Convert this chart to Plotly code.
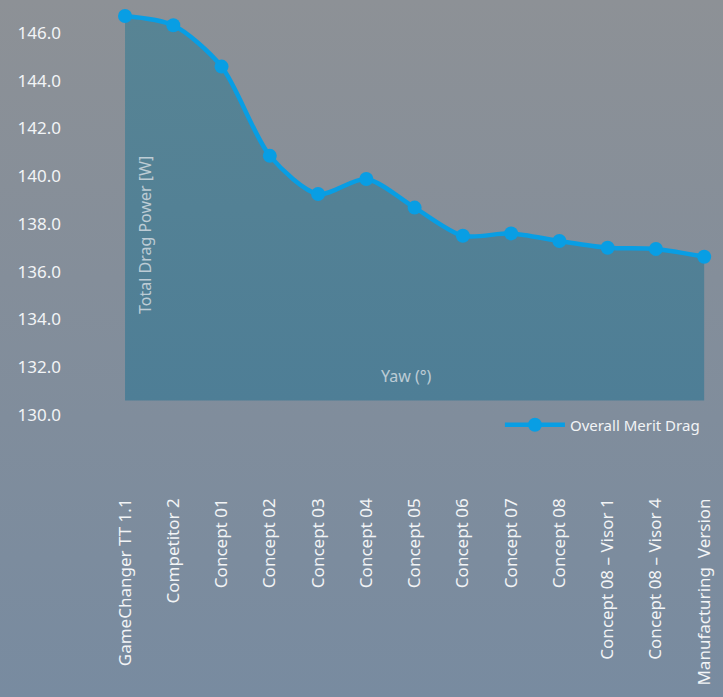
import plotly.graph_objects as go

# ---- data ----
categories = [
    "GameChanger TT 1.1", "Competitor 2", "Concept 01", "Concept 02",
    "Concept 03", "Concept 04", "Concept 05", "Concept 06", "Concept 07",
    "Concept 08", "Concept 08 – Visor 1", "Concept 08 – Visor 4",
    "Manufacturing  Version",
]
overall_merit_drag = [146.71, 146.32, 144.59, 140.85, 139.25, 139.88, 138.68,
                      137.50, 137.60, 137.28, 137.00, 136.95, 136.62]
fill_base = 130.6
y_ticks = [130, 132, 134, 136, 138, 140, 142, 144, 146]

W, H = 723, 697
FONT = "Noto Sans"
LINE_BLUE = "rgb(8,158,228)"

fig = go.Figure()

# background gradient panel (whole page)
fig.add_trace(go.Scatter(
    x=[0, 1, 1, 0, 0], y=[0, 0, 1, 1, 0], xaxis="x", yaxis="y",
    mode="lines", line=dict(width=0), fill="toself",
    fillgradient=dict(type="vertical",
                      colorscale=[[0, "rgb(120,139,160)"], [0.6, "rgb(132,142,154)"], [1, "rgb(141,145,150)"]]),
    hoverinfo="skip", showlegend=False,
))

# baseline for area fill
fig.add_trace(go.Scatter(
    x=categories, y=[fill_base] * len(categories), xaxis="x2", yaxis="y2",
    mode="lines", line=dict(width=0), hoverinfo="skip", showlegend=False,
))

# main series
fig.add_trace(go.Scatter(
    x=categories, y=overall_merit_drag, xaxis="x2", yaxis="y2",
    name="Overall Merit Drag", showlegend=False,
    mode="lines+markers",
    line=dict(color=LINE_BLUE, width=4.5, shape="spline", smoothing=0.8),
    marker=dict(color=LINE_BLUE, size=14),
    fill="tonexty",
    fillgradient=dict(type="vertical",
                      colorscale=[[0, "rgb(78,126,150)"], [1, "rgb(88,132,148)"]]),
))

# legend entry (line + marker only)
fig.add_trace(go.Scatter(
    x=[None], y=[None], xaxis="x2", yaxis="y2",
    name="Overall Merit Drag", mode="lines+markers",
    line=dict(color=LINE_BLUE, width=4.5),
    marker=dict(color=LINE_BLUE, size=14),
))

fig.update_layout(
    width=W, height=H,
    margin=dict(l=0, r=0, t=0, b=0),
    paper_bgcolor="rgb(128,140,155)",
    plot_bgcolor="rgba(0,0,0,0)",
    font=dict(family=FONT, color="rgb(242,244,246)"),
    xaxis=dict(domain=[0, 1], range=[0, 1], visible=False, fixedrange=True),
    yaxis=dict(domain=[0, 1], range=[0, 1], visible=False, fixedrange=True),
    xaxis2=dict(
        domain=[62 / W, 1], anchor="y2",
        type="category", range=[-1.306, 12.39],
        showgrid=False, zeroline=False, showline=False, ticks="",
        tickangle=-90, tickfont=dict(size=17, color="rgb(242,244,246)"),
        ticklabelstandoff=6,
        automargin=False,
    ),
    yaxis2=dict(
        domain=[209 / H, 1], anchor="x2",
        range=[126.93, 147.38],
        tickvals=y_ticks, tickformat=".1f",
        showgrid=False, zeroline=False, showline=False, ticks="",
        tickfont=dict(size=17, color="rgb(242,244,246)"),
        automargin=False,
    ),
    legend=dict(
        x=0.975, xanchor="right", y=1 - 425 / H, yanchor="middle",
        bgcolor="rgba(0,0,0,0)", itemwidth=60,
        font=dict(size=15, color="rgb(242,244,246)"),
    ),
    showlegend=True,
    annotations=[
        dict(text="Total Drag Power [W]", xref="paper", yref="paper",
             x=145 / W, y=1 - 235 / H, xanchor="center", yanchor="middle",
             textangle=-90, showarrow=False,
             font=dict(size=16, color="rgba(225,230,235,0.75)")),
        dict(text="Yaw (°)", xref="paper", yref="paper",
             x=406 / W, y=1 - 376 / H, xanchor="center", yanchor="middle",
             showarrow=False,
             font=dict(size=16, color="rgba(225,230,235,0.75)")),
    ],
)

fig.write_html(
    "out.html",
    config={"displayModeBar": False},
    post_script="document.body.style.margin='0';document.body.style.overflow='hidden';",
)
